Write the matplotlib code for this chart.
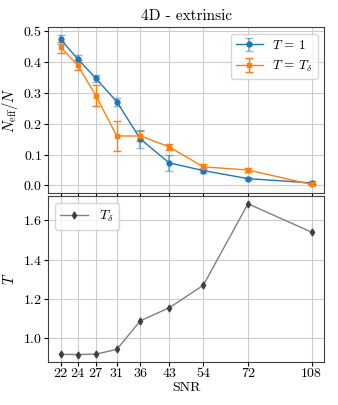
import numpy as np
import matplotlib
matplotlib.use("Agg")
import matplotlib.pyplot as plt
from matplotlib.ticker import NullLocator, FixedLocator, FixedFormatter

# SNR values (labels are rounded on the axis)
snr = [21.8, 24.3, 27.3, 31.2, 36.3, 43.6, 54.2, 72.1, 108.2]
snr_labels = ["22", "24", "27", "31", "36", "43", "54", "72", "108"]

neff_t1 = [0.473, 0.410, 0.347, 0.271, 0.150, 0.073, 0.048, 0.022, 0.008]
err_t1 = [0.015, 0.012, 0.012, 0.013, 0.030, 0.025, 0.007, 0.006, 0.005]

neff_td = [0.447, 0.390, 0.291, 0.160, 0.160, 0.125, 0.060, 0.050, 0.003]
err_td = [0.017, 0.015, 0.033, 0.050, 0.015, 0.010, 0.008, 0.005, 0.003]

t_delta = [0.915, 0.914, 0.916, 0.940, 1.087, 1.153, 1.268, 1.685, 1.540]

plt.rcParams["font.family"] = "cmr10"
plt.rcParams["mathtext.fontset"] = "cm"
plt.rcParams["axes.formatter.use_mathtext"] = True
plt.rcParams["font.size"] = 10
plt.rcParams["axes.edgecolor"] = "0.25"
plt.rcParams["xtick.major.size"] = 3
plt.rcParams["ytick.major.size"] = 3
plt.rcParams["xtick.major.pad"] = 1.5
plt.rcParams["ytick.major.pad"] = 1

fig, (ax1, ax2) = plt.subplots(2, 1, sharex=True, figsize=(3.38, 4.05), dpi=100)
fig.subplots_adjust(left=0.142, right=0.959, top=0.933, bottom=0.106, hspace=0.02)

ax1.errorbar(snr, neff_t1, yerr=err_t1, color="C0", marker="o", ms=3.5, lw=1,
             capsize=3, ecolor=(0.12, 0.47, 0.71, 0.5), elinewidth=1.5,
             label=r"$T\,=\,1$")
ax1.errorbar(snr, neff_td, yerr=err_td, color="C1", marker="s", ms=3.5, lw=1,
             capsize=3, elinewidth=1, label=r"$T\,=\,T_\delta$")
ax1.set_ylabel(r"$N_{\rm eff}/N$", fontsize=10.5, labelpad=2)
ax1.set_title("4D - extrinsic", fontsize=11, pad=5)
ax1.set_yticks([0.0, 0.1, 0.2, 0.3, 0.4, 0.5])
ax1.grid(True, color="0.8")
ax1.legend(loc="upper right", fontsize=9.5, handletextpad=0.7)

ax2.plot(snr, t_delta, color="0.5", marker="d", ms=3.5, lw=1,
         mfc="0.25", mec="0.25", label=r"$T_\delta$")
ax2.set_ylabel(r"$T$", fontsize=10.5, labelpad=4)
ax2.set_xlabel("SNR", fontsize=10, labelpad=1)
ax2.set_yticks([1.0, 1.2, 1.4, 1.6])
ax2.grid(True, color="0.8")
ax2.legend(loc="upper left", fontsize=10)

ax2.set_xscale("log")
ax2.xaxis.set_major_locator(FixedLocator(snr))
ax2.xaxis.set_major_formatter(FixedFormatter(snr_labels))
ax2.xaxis.set_minor_locator(NullLocator())

fig.savefig("out.png", dpi=100)
